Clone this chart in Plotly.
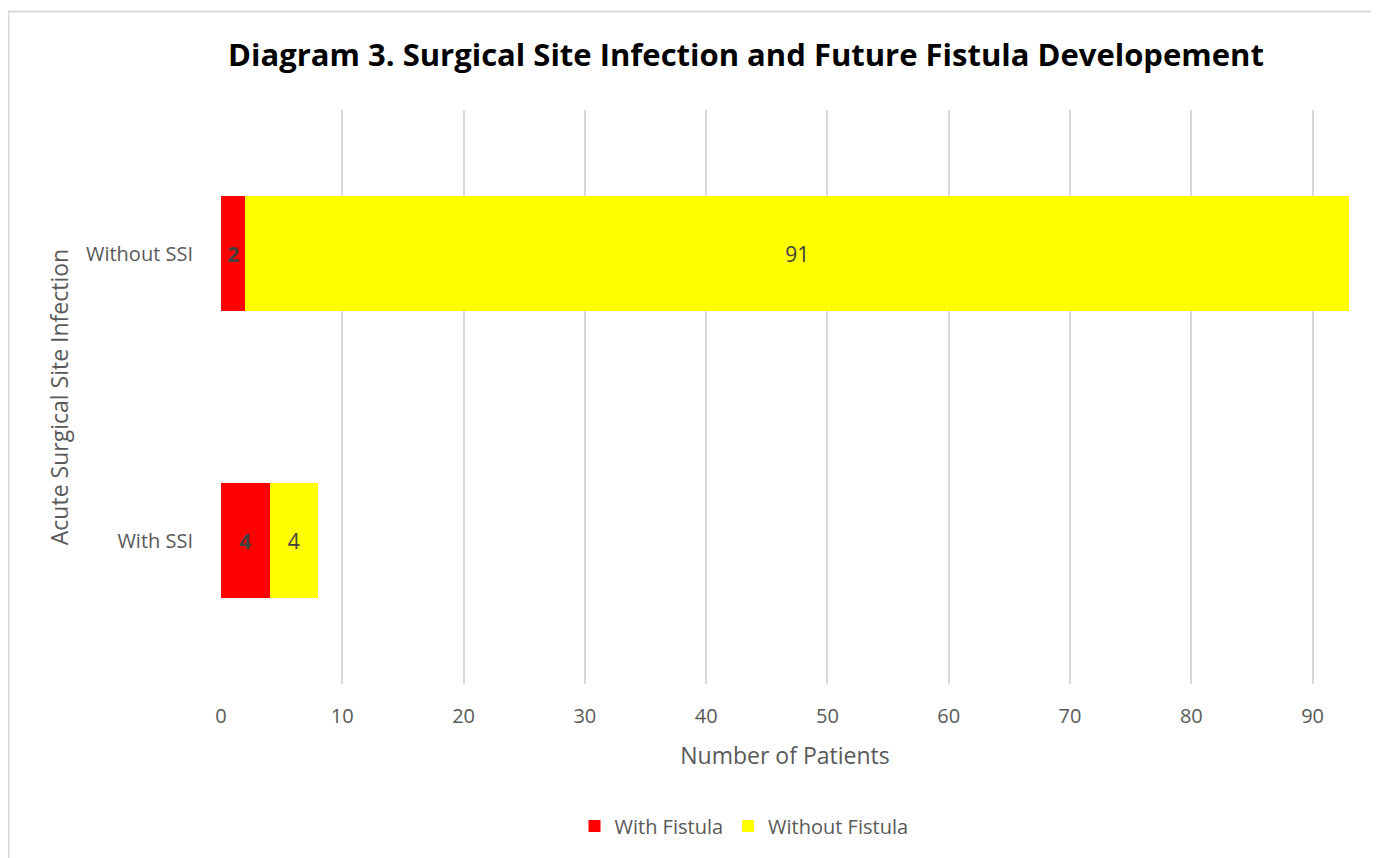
import plotly.graph_objects as go

categories = ["With SSI", "Without SSI"]
with_fistula = [4, 2]
without_fistula = [4, 91]
x_ticks = [0, 10, 20, 30, 40, 50, 60, 70, 80, 90]

FONT = "Open Sans"
W, H = 1379, 858
OFF = 8  # page body margin
# target absolute positions of the plot area
PL, PR, PT, PB = 221, 1349, 110, 684
L = PL - OFF
R = W + OFF - PR
T = PT - OFF
B = H + OFF - PB
pw = PR - PL
ph = PB - PT

def ax(px):
    return (px - PL) / pw

def ay(py):
    return (PB - py) / ph

fig = go.Figure()
fig.add_trace(go.Bar(
    y=categories, x=with_fistula, name="With Fistula", orientation="h",
    marker=dict(color="#FF0000", line=dict(width=0)),
    text=[f"<b>{v}</b>" for v in with_fistula], textposition="inside", insidetextanchor="middle",
    textfont=dict(family=FONT, size=21, color="#404040"),
))
fig.add_trace(go.Bar(
    y=categories, x=without_fistula, name="Without Fistula", orientation="h",
    marker=dict(color="#FFFF00", line=dict(width=0)),
    text=without_fistula, textposition="inside", insidetextanchor="middle",
    textfont=dict(family=FONT, size=21, color="#404040"),
))

fig.update_layout(
    width=W, height=H,
    barmode="stack", bargap=0.6,
    margin=dict(l=L, r=R, t=T, b=B),
    paper_bgcolor="white", plot_bgcolor="white",
    font=dict(family=FONT, color="#595959"),
    uniformtext=dict(minsize=10, mode="show"),
    title=dict(text="<b>Diagram 3. Surgical Site Infection and Future Fistula Developement</b>",
               x=(746 - OFF) / W, xanchor="center", y=1 - (55 - OFF) / H, yanchor="middle",
               font=dict(family=FONT, size=31, color="black")),
    xaxis=dict(range=[0, 93], tickvals=x_ticks, showgrid=True, gridcolor="#D9D9D9", gridwidth=2,
               zeroline=False, showline=False, ticks="", tickfont=dict(size=20, color="#595959"),
               ticklabelstandoff=18,
               title=dict(text="Number of Patients", font=dict(size=23, color="#595959"), standoff=19)),
    yaxis=dict(showgrid=False, zeroline=False, showline=False, ticks="",
               tickfont=dict(size=20, color="#595959"), ticklabelstandoff=27,
               title=dict(text="Acute Surgical Site Infection", font=dict(size=23, color="#595959"), standoff=10)),
    legend=dict(orientation="h", x=ax(744), xanchor="center", y=ay(826), yanchor="middle",
                font=dict(size=20, color="#595959"), traceorder="normal", itemwidth=30),
    showlegend=True,
)
# chart frame border
fig.add_shape(type="rect", xref="paper", yref="paper",
              x0=ax(8.5), x1=ax(W + 20), y0=ay(H + 20), y1=ay(11.5),
              line=dict(color="#D9D9D9", width=2), fillcolor="rgba(0,0,0,0)", layer="below")

fig.write_html("out.html")
